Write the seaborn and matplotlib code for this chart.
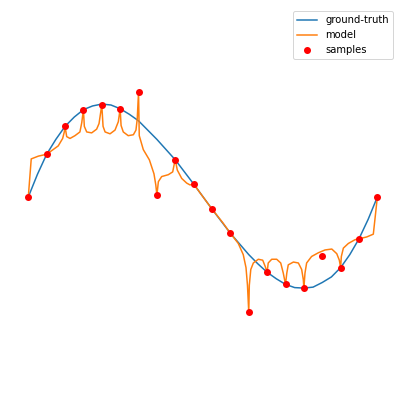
import matplotlib
matplotlib.use("Agg")
import matplotlib.pyplot as plt
import seaborn as sns

# samples
sample_x = [0, 1, 2, 3, 4, 5, 6, 7, 8, 9, 10, 11, 12, 13, 14, 15, 16, 17, 18, 19]
sample_y = [0.0, 0.46, 0.76, 0.94, 0.99, 0.95, 1.13, 0.02, 0.40, 0.14,
            -0.13, -0.39, -1.24, -0.81, -0.94, -0.98, -0.63, -0.76, -0.45, 0.0]

# ground-truth curve
truth_x = [0, 0.5, 1, 1.5, 2, 2.5, 3, 3.5, 4, 4.5, 5, 5.5, 6, 6.5, 7, 7.5, 8, 8.5, 9, 9.5,
           10, 10.5, 11, 11.5, 12, 12.5, 13, 13.5, 14, 14.5, 15, 15.5, 16, 16.5, 17, 17.5,
           18, 18.5, 19]
truth_y = [0.0, 0.245, 0.46, 0.62, 0.76, 0.86, 0.94, 0.98, 1.0, 0.99, 0.95, 0.89, 0.82,
           0.72, 0.62, 0.51, 0.40, 0.27, 0.14, 0.005, -0.13, -0.26, -0.39, -0.505, -0.62,
           -0.72, -0.81, -0.88, -0.94, -0.975, -0.98, -0.97, -0.92, -0.86, -0.76, -0.62,
           -0.45, -0.24, 0.0]

# model curve
model_x = [0.0, 0.16, 0.55, 1.0, 1.63, 1.87, 1.96, 2.0,
           2.09, 2.27, 2.54, 2.81, 2.91, 3.0,
           3.05, 3.18, 3.45, 3.72, 3.85, 4.0,
           4.07, 4.18, 4.45, 4.72, 4.90, 5.0,
           5.05, 5.17, 5.44, 5.72, 5.86, 5.93, 6.0,
           6.04, 6.26, 6.59, 6.84, 6.94, 7.0,
           7.08, 7.26, 7.62, 7.86, 7.93, 8.0,
           8.11, 8.35, 8.62, 8.8, 9.0,
           9.44, 10.0, 10.6, 11.0, 11.43, 11.70, 11.85, 11.93, 12.0,
           12.03, 12.11, 12.25, 12.52, 12.76, 12.90, 13.0,
           13.06, 13.25, 13.52, 13.74, 13.88, 14.0,
           14.07, 14.15, 14.43, 14.70, 14.88, 14.97, 15.0,
           15.06, 15.15, 15.42, 15.79, 16.15, 16.52, 16.79, 16.93, 17.0,
           17.04, 17.15, 17.42, 17.78, 18.0,
           18.42, 18.78, 19.0]
model_y = [0.0, 0.41, 0.44, 0.46, 0.55, 0.63, 0.70, 0.76,
           0.65, 0.63, 0.66, 0.70, 0.80, 0.94,
           0.76, 0.70, 0.69, 0.73, 0.79, 0.99,
           0.76, 0.70, 0.68, 0.72, 0.81, 0.95,
           0.77, 0.70, 0.66, 0.67, 0.72, 0.84, 1.13,
           0.66, 0.51, 0.40, 0.25, 0.13, 0.02,
           0.165, 0.22, 0.24, 0.27, 0.34, 0.40,
           0.29, 0.20, 0.15, 0.13, 0.14,
           0.02, -0.13, -0.28, -0.39, -0.50, -0.62, -0.76, -0.95, -1.24,
           -0.95, -0.78, -0.71, -0.67, -0.68, -0.75, -0.81,
           -0.71, -0.67, -0.67, -0.71, -0.82, -0.94,
           -0.82, -0.73, -0.70, -0.71, -0.78, -0.89, -0.98,
           -0.82, -0.71, -0.64, -0.60, -0.57, -0.56, -0.61, -0.68, -0.76,
           -0.64, -0.55, -0.50, -0.46, -0.45,
           -0.43, -0.40, 0.0]

fig = plt.figure(figsize=(404 / 72, 394 / 72), dpi=72)
ax = fig.add_axes([0, 0, 1, 1])

sns.lineplot(x=truth_x, y=truth_y, color='tab:blue', linewidth=1.5,
             sort=False, label='ground-truth', ax=ax)
sns.lineplot(x=model_x, y=model_y, color='tab:orange', linewidth=1.5,
             sort=False, label='model', ax=ax)
sns.scatterplot(x=sample_x, y=sample_y, color='red', s=49, linewidth=0,
                label='samples', ax=ax, zorder=3)

ax.set_xlim(-1.54, 20.45)
ax.set_ylim(-2.12, 2.12)
ax.axis('off')
ax.legend(loc='upper right', borderaxespad=1.1)

fig.savefig('out.png', dpi=72)
plt.close(fig)
